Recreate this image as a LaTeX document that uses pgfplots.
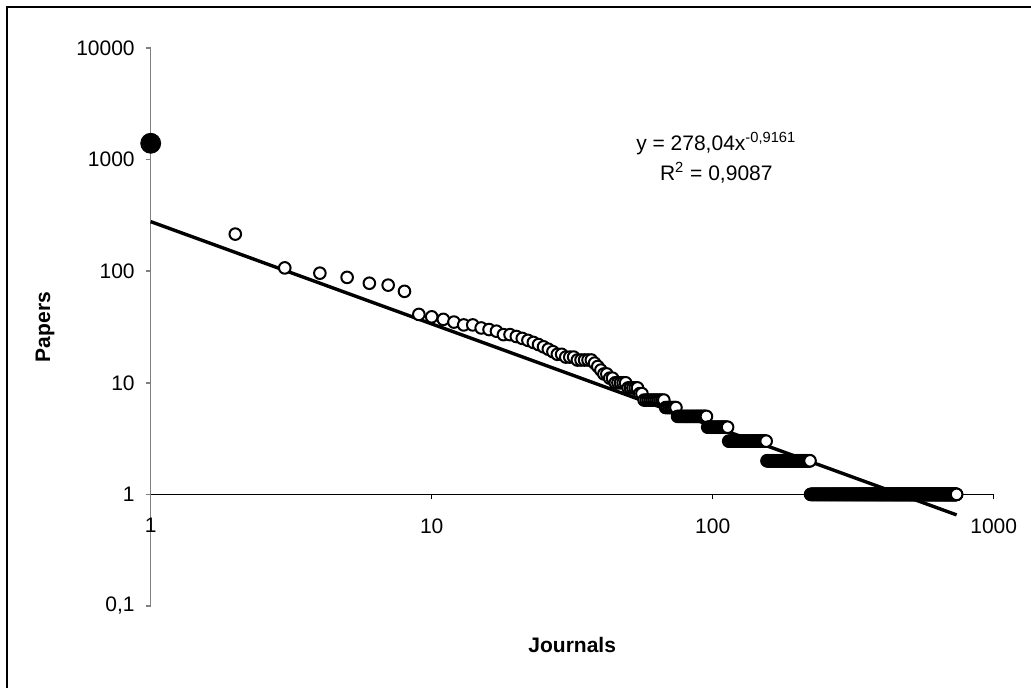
\documentclass[border=0pt]{standalone}
\usepackage{pgfplots}
\pgfplotsset{compat=1.18}
\usepackage{fontspec}
\setmainfont{Liberation Sans}
\begin{document}
\begin{tikzpicture}
\useasboundingbox (0,0) rectangle (515.5pt,344pt);
\draw[line width=0.9pt] (3.5pt,-20pt) -- (3.5pt,340.5pt) -- (540pt,340.5pt);
\begin{axis}[
 at={(75.35pt,41pt)}, anchor=south west,
 scale only axis, width=421.5pt, height=279pt,
 xmode=log, ymode=log, xmin=1, xmax=1000, ymin=0.1, ymax=10000,
 axis y line=left, axis x line=middle,
 hide obscured x ticks=false, hide obscured y ticks=false,
 x axis line style={-, black, line width=0.5pt},
 y axis line style={-, gray, line width=0.75pt},
 xtick={1,10,100,1000}, xticklabels={1,10,100,1000},
 ytick={0.1,1,10,100,1000,10000}, yticklabels={{0,1},1,10,100,1000,10000},
 xminorticks=false, yminorticks=false,
 tick align=outside, major tick length=2.5pt,
 xtick style={black, line width=0.5pt},
 ytick style={gray, line width=0.75pt},
 tick label style={font=\fontsize{10.5}{12}\selectfont},
 xticklabel style={anchor=north, yshift=-6pt},
 yticklabel style={anchor=east, xshift=-2pt},
 xlabel={Journals}, ylabel={Papers},
 label style={font=\fontsize{10.5}{12}\selectfont\bfseries},
 xlabel style={at={(axis description cs:0.5,-0.0699)}, anchor=center},
 ylabel style={at={(axis description cs:-0.1254,0.5)}, anchor=center, rotate=0},
 clip=false,
]
\addplot[black, line width=1.7pt, no marks] coordinates {(1,278.04)(738,0.655)};
\addplot[only marks, mark=*, mark size=2.9pt, mark options={fill=white, draw=black, line width=1pt}] coordinates {
(2,215)(3,107)(4,96)(5,88)(6,78)(7,75)(8,66)(9,41)(10,39)(11,37)(12,35)(13,33)(14,33)(15,31)(16,30)(17,29)(18,27)(19,27)(20,26)(21,25)(22,24)(23,23)(24,22)(25,21)(26,20)(27,19)(28,18)(29,18)(30,17)(31,17)(32,17)(33,16)(34,16)(35,16)(36,16)(37,16)(38,15)(39,14)(40,13)(41,12)(42,12)(43,11)(44,11)(45,10)(46,10)(47,10)(48,10)(49,10)(50,9)(51,9)(52,9)(53,9)(54,9)(55,8)(56,8)
(57,7)(58,7)(59,7)(60,7)(61,7)(62,7)(63,7)(64,7)(65,7)(66,7)(67,7)
(68,6)(69,6)(70,6)(71,6)(72,6)(73,6)(74,6)
(75,5)(76,5)(77,5)(78,5)(79,5)(80,5)(81,5)(82,5)(83,5)(84,5)(85,5)(86,5)(87,5)(88,5)(89,5)(90,5)(91,5)(92,5)(93,5)(94,5)(95,5)
(96,4)(97,4)(98,4)(99,4)(100,4)(101,4)(102,4)(103,4)(104,4)(105,4)(106,4)(107,4)(108,4)(109,4)(110,4)(111,4)(112,4)(113,4)
(114,3)(115,3)(116,3)(117,3)(118,3)(119,3)(120,3)(121,3)(122,3)(123,3)(124,3)(125,3)(126,3)(127,3)(128,3)(129,3)(130,3)(131,3)(132,3)(133,3)(134,3)(135,3)(136,3)(137,3)(138,3)(139,3)(140,3)(141,3)(142,3)(143,3)(144,3)(145,3)(146,3)(147,3)(148,3)(149,3)(150,3)(151,3)(152,3)(153,3)(154,3)(155,3)
(156,2)(157,2)(158,2)(159,2)(160,2)(161,2)(162,2)(163,2)(164,2)(165,2)(166,2)(167,2)(168,2)(169,2)(170,2)(171,2)(172,2)(173,2)(174,2)(175,2)(176,2)(177,2)(178,2)(179,2)(180,2)(181,2)(182,2)(183,2)(184,2)(185,2)(186,2)(187,2)(188,2)(189,2)(190,2)(191,2)(192,2)(193,2)(194,2)(195,2)(196,2)(197,2)(198,2)(199,2)(200,2)(201,2)(202,2)(203,2)(204,2)(205,2)(206,2)(207,2)(208,2)(209,2)(210,2)(211,2)(212,2)(213,2)(214,2)(215,2)(216,2)(217,2)(218,2)(219,2)(220,2)(221,2)(222,2)
(223,1)(224,1)(225,1)(226,1)(227,1)(228,1)(229,1)(230,1)(231,1)(232,1)(233,1)(234,1)(235,1)(236,1)(237,1)(238,1)(239,1)(240,1)(241,1)(242,1)(243,1)(244,1)(245,1)(246,1)(247,1)(248,1)(249,1)(250,1)(251,1)(252,1)(253,1)(254,1)(255,1)(256,1)(257,1)(258,1)(259,1)(260,1)(261,1)(262,1)(263,1)(264,1)(265,1)(266,1)(267,1)(268,1)(269,1)(270,1)(271,1)(272,1)(273,1)(274,1)(275,1)(276,1)(277,1)(278,1)(279,1)(280,1)(281,1)(282,1)(283,1)(284,1)(285,1)(286,1)(287,1)(288,1)(289,1)(290,1)(291,1)(292,1)(293,1)(294,1)(295,1)(296,1)(297,1)(298,1)(299,1)(300,1)
(301,1)(302,1)(303,1)(304,1)(305,1)(306,1)(307,1)(308,1)(309,1)(310,1)(311,1)(312,1)(313,1)(314,1)(315,1)(316,1)(317,1)(318,1)(319,1)(320,1)(321,1)(322,1)(323,1)(324,1)(325,1)(326,1)(327,1)(328,1)(329,1)(330,1)(331,1)(332,1)(333,1)(334,1)(335,1)(336,1)(337,1)(338,1)(339,1)(340,1)(341,1)(342,1)(343,1)(344,1)(345,1)(346,1)(347,1)(348,1)(349,1)(350,1)(351,1)(352,1)(353,1)(354,1)(355,1)(356,1)(357,1)(358,1)(359,1)(360,1)(361,1)(362,1)(363,1)(364,1)(365,1)(366,1)(367,1)(368,1)(369,1)(370,1)(371,1)(372,1)(373,1)(374,1)(375,1)(376,1)(377,1)(378,1)(379,1)(380,1)(381,1)(382,1)(383,1)(384,1)(385,1)(386,1)(387,1)(388,1)(389,1)(390,1)(391,1)(392,1)(393,1)(394,1)(395,1)(396,1)(397,1)(398,1)(399,1)(400,1)
(401,1)(402,1)(403,1)(404,1)(405,1)(406,1)(407,1)(408,1)(409,1)(410,1)(411,1)(412,1)(413,1)(414,1)(415,1)(416,1)(417,1)(418,1)(419,1)(420,1)(421,1)(422,1)(423,1)(424,1)(425,1)(426,1)(427,1)(428,1)(429,1)(430,1)(431,1)(432,1)(433,1)(434,1)(435,1)(436,1)(437,1)(438,1)(439,1)(440,1)(441,1)(442,1)(443,1)(444,1)(445,1)(446,1)(447,1)(448,1)(449,1)(450,1)(451,1)(452,1)(453,1)(454,1)(455,1)(456,1)(457,1)(458,1)(459,1)(460,1)(461,1)(462,1)(463,1)(464,1)(465,1)(466,1)(467,1)(468,1)(469,1)(470,1)(471,1)(472,1)(473,1)(474,1)(475,1)(476,1)(477,1)(478,1)(479,1)(480,1)(481,1)(482,1)(483,1)(484,1)(485,1)(486,1)(487,1)(488,1)(489,1)(490,1)(491,1)(492,1)(493,1)(494,1)(495,1)(496,1)(497,1)(498,1)(499,1)(500,1)
(501,1)(502,1)(503,1)(504,1)(505,1)(506,1)(507,1)(508,1)(509,1)(510,1)(511,1)(512,1)(513,1)(514,1)(515,1)(516,1)(517,1)(518,1)(519,1)(520,1)(521,1)(522,1)(523,1)(524,1)(525,1)(526,1)(527,1)(528,1)(529,1)(530,1)(531,1)(532,1)(533,1)(534,1)(535,1)(536,1)(537,1)(538,1)(539,1)(540,1)(541,1)(542,1)(543,1)(544,1)(545,1)(546,1)(547,1)(548,1)(549,1)(550,1)(551,1)(552,1)(553,1)(554,1)(555,1)(556,1)(557,1)(558,1)(559,1)(560,1)(561,1)(562,1)(563,1)(564,1)(565,1)(566,1)(567,1)(568,1)(569,1)(570,1)(571,1)(572,1)(573,1)(574,1)(575,1)(576,1)(577,1)(578,1)(579,1)(580,1)(581,1)(582,1)(583,1)(584,1)(585,1)(586,1)(587,1)(588,1)(589,1)(590,1)(591,1)(592,1)(593,1)(594,1)(595,1)(596,1)(597,1)(598,1)(599,1)(600,1)
(601,1)(602,1)(603,1)(604,1)(605,1)(606,1)(607,1)(608,1)(609,1)(610,1)(611,1)(612,1)(613,1)(614,1)(615,1)(616,1)(617,1)(618,1)(619,1)(620,1)(621,1)(622,1)(623,1)(624,1)(625,1)(626,1)(627,1)(628,1)(629,1)(630,1)(631,1)(632,1)(633,1)(634,1)(635,1)(636,1)(637,1)(638,1)(639,1)(640,1)(641,1)(642,1)(643,1)(644,1)(645,1)(646,1)(647,1)(648,1)(649,1)(650,1)(651,1)(652,1)(653,1)(654,1)(655,1)(656,1)(657,1)(658,1)(659,1)(660,1)(661,1)(662,1)(663,1)(664,1)(665,1)(666,1)(667,1)(668,1)(669,1)(670,1)(671,1)(672,1)(673,1)(674,1)(675,1)(676,1)(677,1)(678,1)(679,1)(680,1)(681,1)(682,1)(683,1)(684,1)(685,1)(686,1)(687,1)(688,1)(689,1)(690,1)(691,1)(692,1)(693,1)(694,1)(695,1)(696,1)(697,1)(698,1)(699,1)(700,1)
(701,1)(702,1)(703,1)(704,1)(705,1)(706,1)(707,1)(708,1)(709,1)(710,1)(711,1)(712,1)(713,1)(714,1)(715,1)(716,1)(717,1)(718,1)(719,1)(720,1)(721,1)(722,1)(723,1)(724,1)(725,1)(726,1)(727,1)(728,1)(729,1)(730,1)(731,1)(732,1)(733,1)(734,1)(735,1)(736,1)(737,1)(738,1)
};
\addplot[only marks, mark=*, mark size=5pt, black] coordinates {(1,1400)};
\node[align=center, font=\fontsize{10.5}{15}\selectfont] at (axis cs:103,1040) {y = 278,04x\textsuperscript{-0,9161}\\R\textsuperscript{2} = 0,9087};
\end{axis}
\end{tikzpicture}
\end{document}
